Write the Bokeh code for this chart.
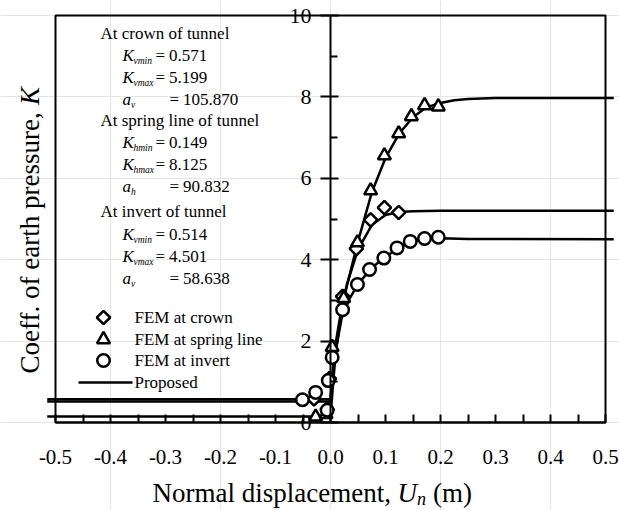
import math
from bokeh.plotting import figure
from bokeh.models import LinearAxis, FixedTicker, Label, BoxAnnotation, Range1d
from bokeh.embed import file_html
from bokeh.resources import INLINE

# ---------------- data ----------------
# FEM results: normal displacement Un (m) and coefficient K
crown_fem_u = [-0.030, -0.006, -0.002, 0.022, 0.047, 0.073, 0.098, 0.124]
crown_fem_k = [0.58, 0.32, 1.08, 3.10, 4.27, 4.98, 5.28, 5.16]

spring_fem_u = [-0.027, -0.008, 0.003, 0.024, 0.049, 0.073, 0.098, 0.124, 0.147, 0.171, 0.196]
spring_fem_k = [0.14, 0.20, 1.85, 3.05, 4.42, 5.70, 6.56, 7.10, 7.52, 7.79, 7.76]

invert_fem_u = [-0.051, -0.027, -0.006, -0.004, 0.003, 0.022, 0.049, 0.071, 0.097, 0.121, 0.145, 0.171, 0.196]
invert_fem_k = [0.56, 0.74, 0.30, 1.03, 1.60, 2.77, 3.39, 3.76, 4.04, 4.29, 4.45, 4.52, 4.55]

# Proposed model curves
crown_prop_u = [-0.515, 0.0, 0.005, 0.01, 0.02, 0.03, 0.05, 0.075, 0.1, 0.125, 0.15, 0.2, 0.515]
crown_prop_k = [0.571, 0.571, 1.4, 2.0, 2.8, 3.4, 4.25, 4.85, 5.1, 5.17, 5.19, 5.2, 5.2]

spring_prop_u = [-0.515, 0.0, 0.005, 0.01, 0.025, 0.05, 0.075, 0.1, 0.125, 0.15, 0.175, 0.2, 0.225, 0.25, 0.3, 0.515]
spring_prop_k = [0.149, 0.149, 1.0, 1.8, 3.1, 4.45, 5.65, 6.5, 7.1, 7.5, 7.75, 7.85, 7.92, 7.95, 7.97, 7.97]

invert_prop_u = [-0.515, 0.0, 0.005, 0.01, 0.02, 0.035, 0.05, 0.075, 0.1, 0.125, 0.15, 0.175, 0.2, 0.25, 0.515]
invert_prop_k = [0.514, 0.514, 1.3, 1.8, 2.55, 3.05, 3.4, 3.8, 4.07, 4.3, 4.45, 4.52, 4.53, 4.51, 4.5]

x_ticks = [-0.5, -0.4, -0.3, -0.2, -0.1, 0.0, 0.1, 0.2, 0.3, 0.4, 0.5]
x_tick_labels = ["-0.5", "-0.4", "-0.3", "-0.2", "-0.1", "0.0", "0.1", "0.2", "0.3", "0.4", "0.5"]
x_minor = [-0.45, -0.35, -0.25, -0.15, -0.05, 0.05, 0.15, 0.25, 0.35, 0.45]
y_ticks = [0, 2, 4, 6, 8, 10]
y_tick_labels = ["0", "2", "4", "6", "8", "10"]
y_minor = [1, 3, 5, 7, 9]

legend_labels = ["FEM at crown", "FEM at spring line", "FEM at invert", "Proposed"]

FONT = "Liberation Serif"
W, H = 619, 510

# pixel helpers for layout (canvas px -> data coordinates)
X0PX, XS = 330.0, 550.0
Y0PX, YS = 422.0, 40.7
def tx(px):
    return (px - X0PX) / XS
def ty(py):
    return (Y0PX - py) / YS

# ---------------- figure (frame covers the whole canvas) ----------------
p = figure(width=W, height=H, output_backend="svg", toolbar_location=None,
           x_range=Range1d(tx(0), tx(W)), y_range=Range1d(ty(H), ty(0)),
           x_axis_location=None, y_axis_location=None,
           min_border_left=0, min_border_right=0, min_border_top=0, min_border_bottom=0)
p.outline_line_color = None
p.background_fill_color = "white"
p.border_fill_color = "white"

# plot box
p.add_layout(BoxAnnotation(left=x_ticks[0], right=x_ticks[-1], bottom=y_ticks[0], top=y_ticks[-1],
                           fill_alpha=0, line_color="black", line_alpha=1.0, line_width=2))

# axes
xaxis = LinearAxis(fixed_location=0, bounds=(x_ticks[0], x_ticks[-1]),
                   ticker=FixedTicker(ticks=x_ticks, minor_ticks=x_minor),
                   major_label_overrides={t: s for t, s in zip(x_ticks, x_tick_labels)},
                   major_tick_in=8, major_tick_out=0, minor_tick_in=8, minor_tick_out=0,
                   major_label_standoff=27, axis_line_width=2,
                   major_tick_line_width=2, minor_tick_line_width=2,
                   major_label_text_font=FONT, major_label_text_font_size="21px",
                   major_label_text_color="black")
p.add_layout(xaxis, "below")

yaxis = LinearAxis(fixed_location=0, bounds=(y_ticks[0], y_ticks[-1]),
                   ticker=FixedTicker(ticks=y_ticks, minor_ticks=y_minor),
                   major_label_overrides={t: s for t, s in zip(y_ticks, y_tick_labels)},
                   major_tick_in=8, major_tick_out=10, minor_tick_in=7, minor_tick_out=0,
                   major_label_standoff=9, axis_line_width=2,
                   major_tick_line_width=2, minor_tick_line_width=2,
                   major_label_text_font=FONT, major_label_text_font_size="22px",
                   major_label_text_color="black")
p.add_layout(yaxis, "left")

# proposed curves
LW = 2.5
p.line(crown_prop_u, crown_prop_k, line_color="black", line_width=LW)
p.line(spring_prop_u, spring_prop_k, line_color="black", line_width=LW)
p.line(invert_prop_u, invert_prop_k, line_color="black", line_width=LW)

# FEM markers
MK = dict(fill_color="white", line_color="black", line_width=2.5)
DIAMOND = dict(marker="square", angle=math.pi / 4, size=9.5)
TRI = dict(marker="triangle", size=13)
CIRC = dict(marker="circle", size=12.5)
p.scatter(crown_fem_u, crown_fem_k, **DIAMOND, **MK)
p.scatter(spring_fem_u, spring_fem_k, **TRI, **MK)
p.scatter(invert_fem_u, invert_fem_k, **CIRC, **MK)

# ---------------- texts ----------------
def lab(px, py, text, size=17, style="normal", angle=0.0):
    p.add_layout(Label(x=tx(px), y=ty(py), text=text, text_font=FONT,
                       text_font_size=f"{size}px", text_font_style=style,
                       text_align="left", text_baseline="middle", angle=angle,
                       text_color="black"))

headers = [("At crown of tunnel", 33), ("At spring line of tunnel", 120), ("At invert of tunnel", 211)]
for t, py in headers:
    lab(100, py, t)

k_lines = [("vmin", "0.571", 55), ("vmax", "5.199", 77),
           ("hmin", "0.149", 142), ("hmax", "8.125", 164),
           ("vmin", "0.514", 234), ("vmax", "4.501", 256)]
for sub, val, py in k_lines:
    lab(122, py, "K", style="italic")
    lab(133, py + 5, sub, size=9.5, style="italic")
    lab(155, py, "=")
    lab(168.5, py, val)

a_lines = [("v", "105.870", 99), ("h", "90.832", 186), ("v", "58.638", 278)]
for sub, val, py in a_lines:
    lab(122, py, "a", style="italic")
    lab(130.5, py + 5, sub, size=9.5, style="italic")
    lab(169, py, "=")
    lab(182.5, py, val)

# legend (keys + labels)
key_x, key_l, key_r, text_x = 103, 78, 132, 134
rows = [317, 339, 360, 382]
p.scatter([tx(key_x)], [ty(rows[0])], **DIAMOND, **MK)
p.scatter([tx(key_x)], [ty(rows[1])], **TRI, **MK)
p.scatter([tx(key_x)], [ty(rows[2])], **CIRC, **MK)
p.line([tx(key_l), tx(key_r)], [ty(rows[3]), ty(rows[3])], line_color="black", line_width=LW)
for t, py in zip(legend_labels, rows):
    lab(text_x, py, t)

# x-axis title
lab(152, 492, "Normal displacement,", size=27)
lab(397, 492, "U", size=27, style="italic")
lab(416.5, 498, "n", size=18, style="italic")
lab(432.5, 492, "(m)", size=27)

# y-axis title (rotated)
lab(29, 373, "Coeff. of earth pressure,", size=27, angle=math.pi / 2)
lab(29, 104.6, "K", size=27, style="italic", angle=math.pi / 2)

open("out.html", "w").write(file_html(p, INLINE))
